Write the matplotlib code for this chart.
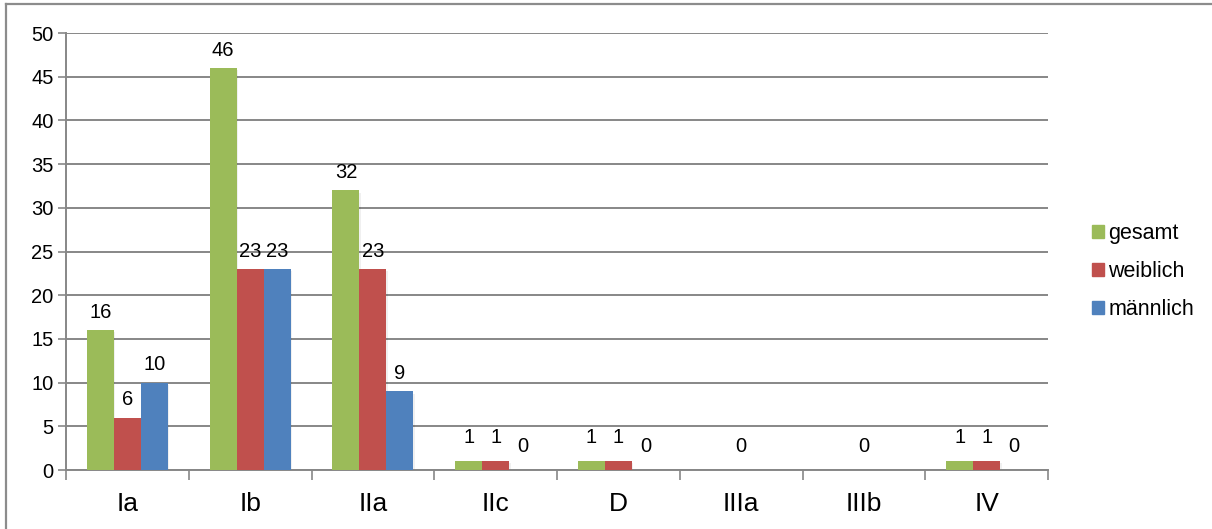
import numpy as np
import matplotlib.pyplot as plt
from matplotlib.lines import Line2D

plt.rcParams["font.family"] = ["Liberation Sans", "DejaVu Sans"]

categories = ["Ia", "Ib", "IIa", "IIc", "D", "IIIa", "IIIb", "IV"]
series_names = ["gesamt", "weiblich", "männlich"]
gesamt = [16, 46, 32, 1, 1, np.nan, np.nan, 1]
weiblich = [6, 23, 23, 1, 1, 0, 0, 1]
maennlich = [10, 23, 9, 0, 0, np.nan, np.nan, 0]
colors = ["#9BBB59", "#C0504D", "#4F81BD"]
y_ticks = [0, 5, 10, 15, 20, 25, 30, 35, 40, 45, 50]

grid_color = "#878787"

fig = plt.figure(figsize=(12.12, 5.29), dpi=100)
ax = fig.add_axes([0.0545, 0.1115, 0.8102, 0.8261])

x = np.arange(len(categories))
width = 0.22
offsets = [-width, 0, width]

for values, name, color, off in zip([gesamt, weiblich, maennlich], series_names, colors, offsets):
    vals = np.array(values, dtype=float)
    # soft drop shadow under each bar
    ax.bar(x + off + 0.012, vals, width, bottom=-0.25, color="#000000", alpha=0.06,
           zorder=2, linewidth=0)
    ax.bar(x + off, vals, width, color=color, label=name, zorder=3, linewidth=0)
    for xi, v in zip(x, vals):
        if np.isnan(v):
            continue
        ax.annotate(f"{int(v)}", (xi + off, v), xytext=(0, 6 if v > 1 else 10),
                    textcoords="offset points", ha="center", va="bottom",
                    fontsize=14.5, color="#000000")

ax.set_xlim(-0.5, len(categories) - 0.5)
ax.set_ylim(0, 50)
ax.set_yticks(y_ticks)
ax.yaxis.grid(True, color=grid_color, linewidth=1.4, zorder=0)
ax.set_axisbelow(True)

# category labels centred, ticks on category boundaries
ax.set_xticks(x)
ax.set_xticklabels(categories, fontsize=19)
ax.tick_params(axis="x", length=0, pad=16)
ax.set_xticks(np.arange(len(categories) + 1) - 0.5, minor=True)
ax.tick_params(axis="x", which="minor", length=7, width=1.2, color=grid_color, direction="out")
ax.tick_params(axis="y", length=6, width=1.2, color=grid_color, labelsize=14.5, pad=3)

for side in ["top", "right"]:
    ax.spines[side].set_visible(False)
for side in ["left", "bottom"]:
    ax.spines[side].set_color(grid_color)
    ax.spines[side].set_linewidth(1.4)

handles = [plt.Rectangle((0, 0), 1, 1, color=c) for c in colors]
fig.legend(handles, series_names, loc="center left", bbox_to_anchor=(0.885, 0.487),
           frameon=False, fontsize=15.5, handlelength=0.55, handleheight=0.55,
           handletextpad=0.2, labelspacing=0.8)

# outer chart frame
fig.add_artist(Line2D([6 / 1212, 1.0], [1 - 4 / 529, 1 - 4 / 529],
                      transform=fig.transFigure, color="#8c8c8c", linewidth=1.6))
fig.add_artist(Line2D([6 / 1212, 6 / 1212], [0.0, 1 - 4 / 529],
                      transform=fig.transFigure, color="#8c8c8c", linewidth=1.6))

fig.savefig("out.png", dpi=100)
